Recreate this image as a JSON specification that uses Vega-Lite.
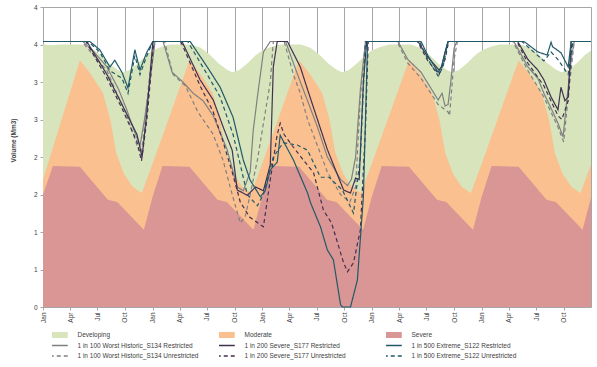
{
  "$schema": "https://vega.github.io/schema/vega-lite/v6.json",
  "width": 548,
  "height": 300,
  "autosize": {"type": "none"},
  "padding": {"left": 43, "top": 7, "right": 6, "bottom": 60},
  "background": "white",
  "config": {"view": {"stroke": "#a6a6a6", "strokeWidth": 1}, "font": "Liberation Sans"},
  "datasets": {
    "names": [
      {"s": "Developing", "name": "Developing"},
      {"s": "Moderate", "name": "Moderate"},
      {"s": "Severe", "name": "Severe"},
      {"s": "G", "name": "1 in 100 Worst Historic_S134 Restricted"},
      {"s": "N", "name": "1 in 200 Severe_S177 Restricted"},
      {"s": "T", "name": "1 in 500 Extreme_S122 Restricted"},
      {"s": "GD", "name": "1 in 100 Worst Historic_S134 Unrestricted"},
      {"s": "ND", "name": "1 in 200 Severe_S177 Unrestricted"},
      {"s": "TD", "name": "1 in 500 Extreme_S122 Unrestricted"}
    ],
    "main": [
      {"s":"Developing","d":"2001-01-01","v":3.5},{"s":"Developing","d":"2001-01-31","v":3.49},{"s":"Developing","d":"2001-03-01","v":3.5},{"s":"Developing","d":"2001-05-10","v":3.5},{"s":"Developing","d":"2001-06-09","v":3.46},{"s":"Developing","d":"2001-07-09","v":3.37},{"s":"Developing","d":"2001-08-08","v":3.25},{"s":"Developing","d":"2001-09-07","v":3.16},{"s":"Developing","d":"2001-09-24","v":3.13},{"s":"Developing","d":"2001-10-17","v":3.16},{"s":"Developing","d":"2001-11-16","v":3.26},{"s":"Developing","d":"2001-12-11","v":3.36},
      {"s":"Developing","d":"2002-01-01","v":3.42},{"s":"Developing","d":"2002-01-31","v":3.47},{"s":"Developing","d":"2002-03-01","v":3.5},{"s":"Developing","d":"2002-05-10","v":3.5},{"s":"Developing","d":"2002-06-09","v":3.46},{"s":"Developing","d":"2002-07-09","v":3.37},{"s":"Developing","d":"2002-08-08","v":3.25},{"s":"Developing","d":"2002-09-07","v":3.16},{"s":"Developing","d":"2002-09-24","v":3.13},{"s":"Developing","d":"2002-10-17","v":3.16},{"s":"Developing","d":"2002-11-16","v":3.26},{"s":"Developing","d":"2002-12-11","v":3.36},
      {"s":"Developing","d":"2003-01-01","v":3.42},{"s":"Developing","d":"2003-01-31","v":3.47},{"s":"Developing","d":"2003-03-01","v":3.5},{"s":"Developing","d":"2003-05-10","v":3.5},{"s":"Developing","d":"2003-06-09","v":3.46},{"s":"Developing","d":"2003-07-09","v":3.37},{"s":"Developing","d":"2003-08-08","v":3.25},{"s":"Developing","d":"2003-09-07","v":3.16},{"s":"Developing","d":"2003-09-24","v":3.13},{"s":"Developing","d":"2003-10-17","v":3.16},{"s":"Developing","d":"2003-11-16","v":3.26},{"s":"Developing","d":"2003-12-11","v":3.36},
      {"s":"Developing","d":"2004-01-01","v":3.42},{"s":"Developing","d":"2004-01-31","v":3.47},{"s":"Developing","d":"2004-03-01","v":3.5},{"s":"Developing","d":"2004-05-10","v":3.5},{"s":"Developing","d":"2004-06-09","v":3.46},{"s":"Developing","d":"2004-07-09","v":3.37},{"s":"Developing","d":"2004-08-08","v":3.25},{"s":"Developing","d":"2004-09-07","v":3.16},{"s":"Developing","d":"2004-09-24","v":3.13},{"s":"Developing","d":"2004-10-17","v":3.16},{"s":"Developing","d":"2004-11-16","v":3.26},{"s":"Developing","d":"2004-12-11","v":3.36},
      {"s":"Developing","d":"2005-01-01","v":3.42},{"s":"Developing","d":"2005-01-31","v":3.47},{"s":"Developing","d":"2005-03-01","v":3.5},{"s":"Developing","d":"2005-05-10","v":3.5},{"s":"Developing","d":"2005-06-09","v":3.46},{"s":"Developing","d":"2005-07-09","v":3.37},{"s":"Developing","d":"2005-08-08","v":3.25},{"s":"Developing","d":"2005-09-07","v":3.16},{"s":"Developing","d":"2005-09-24","v":3.13},{"s":"Developing","d":"2005-10-17","v":3.16},{"s":"Developing","d":"2005-11-16","v":3.26},{"s":"Developing","d":"2005-12-11","v":3.36},{"s":"Developing","d":"2005-12-31","v":3.42},

      {"s":"Moderate","d":"2001-01-01","v":1.7},{"s":"Moderate","d":"2001-05-04","v":3.29},{"s":"Moderate","d":"2001-06-10","v":3.1},{"s":"Moderate","d":"2001-07-20","v":2.85},{"s":"Moderate","d":"2001-08-13","v":2.5},{"s":"Moderate","d":"2001-09-02","v":2.05},{"s":"Moderate","d":"2001-09-27","v":1.78},{"s":"Moderate","d":"2001-10-27","v":1.6},{"s":"Moderate","d":"2001-11-26","v":1.52},
      {"s":"Moderate","d":"2002-01-01","v":1.91},{"s":"Moderate","d":"2002-05-04","v":3.29},{"s":"Moderate","d":"2002-06-10","v":3.1},{"s":"Moderate","d":"2002-07-20","v":2.85},{"s":"Moderate","d":"2002-08-13","v":2.5},{"s":"Moderate","d":"2002-09-02","v":2.05},{"s":"Moderate","d":"2002-09-27","v":1.78},{"s":"Moderate","d":"2002-10-27","v":1.6},{"s":"Moderate","d":"2002-11-26","v":1.52},
      {"s":"Moderate","d":"2003-01-01","v":1.91},{"s":"Moderate","d":"2003-05-04","v":3.29},{"s":"Moderate","d":"2003-06-10","v":3.1},{"s":"Moderate","d":"2003-07-20","v":2.85},{"s":"Moderate","d":"2003-08-13","v":2.5},{"s":"Moderate","d":"2003-09-02","v":2.05},{"s":"Moderate","d":"2003-09-27","v":1.78},{"s":"Moderate","d":"2003-10-27","v":1.6},{"s":"Moderate","d":"2003-11-26","v":1.52},
      {"s":"Moderate","d":"2004-01-01","v":1.91},{"s":"Moderate","d":"2004-05-04","v":3.29},{"s":"Moderate","d":"2004-06-10","v":3.1},{"s":"Moderate","d":"2004-07-20","v":2.85},{"s":"Moderate","d":"2004-08-13","v":2.5},{"s":"Moderate","d":"2004-09-02","v":2.05},{"s":"Moderate","d":"2004-09-27","v":1.78},{"s":"Moderate","d":"2004-10-27","v":1.6},{"s":"Moderate","d":"2004-11-26","v":1.52},
      {"s":"Moderate","d":"2005-01-01","v":1.91},{"s":"Moderate","d":"2005-05-04","v":3.29},{"s":"Moderate","d":"2005-06-10","v":3.1},{"s":"Moderate","d":"2005-07-20","v":2.85},{"s":"Moderate","d":"2005-08-13","v":2.5},{"s":"Moderate","d":"2005-09-02","v":2.05},{"s":"Moderate","d":"2005-09-27","v":1.78},{"s":"Moderate","d":"2005-10-27","v":1.6},{"s":"Moderate","d":"2005-11-26","v":1.52},{"s":"Moderate","d":"2005-12-31","v":1.9},

      {"s":"Severe","d":"2001-01-01","v":1.5},{"s":"Severe","d":"2001-02-03","v":1.88},{"s":"Severe","d":"2001-05-04","v":1.87},{"s":"Severe","d":"2001-08-05","v":1.43},{"s":"Severe","d":"2001-09-05","v":1.4},{"s":"Severe","d":"2001-12-03","v":1.03},
      {"s":"Severe","d":"2002-01-01","v":1.47},{"s":"Severe","d":"2002-02-03","v":1.88},{"s":"Severe","d":"2002-05-04","v":1.87},{"s":"Severe","d":"2002-08-05","v":1.43},{"s":"Severe","d":"2002-09-05","v":1.4},{"s":"Severe","d":"2002-12-03","v":1.03},
      {"s":"Severe","d":"2003-01-01","v":1.47},{"s":"Severe","d":"2003-02-03","v":1.88},{"s":"Severe","d":"2003-05-04","v":1.87},{"s":"Severe","d":"2003-08-05","v":1.43},{"s":"Severe","d":"2003-09-05","v":1.4},{"s":"Severe","d":"2003-12-03","v":1.03},
      {"s":"Severe","d":"2004-01-01","v":1.47},{"s":"Severe","d":"2004-02-03","v":1.88},{"s":"Severe","d":"2004-05-04","v":1.87},{"s":"Severe","d":"2004-08-05","v":1.43},{"s":"Severe","d":"2004-09-05","v":1.4},{"s":"Severe","d":"2004-12-03","v":1.03},
      {"s":"Severe","d":"2005-01-01","v":1.47},{"s":"Severe","d":"2005-02-03","v":1.88},{"s":"Severe","d":"2005-05-04","v":1.87},{"s":"Severe","d":"2005-08-05","v":1.43},{"s":"Severe","d":"2005-09-05","v":1.4},{"s":"Severe","d":"2005-12-03","v":1.03},{"s":"Severe","d":"2005-12-31","v":1.46},

      {"s":"G","d":"2001-01-01","v":3.54},{"s":"G","d":"2001-05-14","v":3.54},{"s":"G","d":"2001-06-20","v":3.4},{"s":"G","d":"2001-08-02","v":3.2},{"s":"G","d":"2001-09-10","v":2.9},{"s":"G","d":"2001-10-07","v":2.63},{"s":"G","d":"2001-10-27","v":2.4},{"s":"G","d":"2001-11-20","v":2.15},{"s":"G","d":"2001-12-05","v":2.5},{"s":"G","d":"2001-12-23","v":3.0},{"s":"G","d":"2002-01-09","v":3.54},
      {"s":"G","d":"2002-02-05","v":3.54},{"s":"G","d":"2002-03-07","v":3.13},{"s":"G","d":"2002-04-12","v":3.0},{"s":"G","d":"2002-05-16","v":2.85},{"s":"G","d":"2002-06-18","v":2.75},{"s":"G","d":"2002-07-22","v":2.55},{"s":"G","d":"2002-09-06","v":2.1},{"s":"G","d":"2002-10-10","v":1.6},{"s":"G","d":"2002-10-30","v":1.55},{"s":"G","d":"2002-11-22","v":1.8},{"s":"G","d":"2002-12-02","v":2.35},{"s":"G","d":"2002-12-16","v":2.8},{"s":"G","d":"2003-01-05","v":3.4},{"s":"G","d":"2003-01-28","v":3.54},
      {"s":"G","d":"2003-03-20","v":3.54},{"s":"G","d":"2003-04-15","v":3.25},{"s":"G","d":"2003-05-08","v":3.0},{"s":"G","d":"2003-06-01","v":2.75},{"s":"G","d":"2003-07-04","v":2.4},{"s":"G","d":"2003-08-06","v":2.0},{"s":"G","d":"2003-09-19","v":1.7},{"s":"G","d":"2003-10-12","v":1.62},{"s":"G","d":"2003-10-25","v":1.7},{"s":"G","d":"2003-11-08","v":2.0},{"s":"G","d":"2003-11-24","v":2.9},{"s":"G","d":"2003-12-11","v":3.54},
      {"s":"G","d":"2004-03-28","v":3.54},{"s":"G","d":"2004-04-30","v":3.3},{"s":"G","d":"2004-06-13","v":3.13},{"s":"G","d":"2004-08-09","v":2.76},{"s":"G","d":"2004-08-22","v":2.85},{"s":"G","d":"2004-09-01","v":2.68},{"s":"G","d":"2004-09-11","v":2.7},{"s":"G","d":"2004-09-20","v":3.0},{"s":"G","d":"2004-10-01","v":3.45},{"s":"G","d":"2004-10-10","v":3.54},
      {"s":"G","d":"2005-04-18","v":3.54},{"s":"G","d":"2005-06-04","v":3.2},{"s":"G","d":"2005-07-07","v":3.05},{"s":"G","d":"2005-07-27","v":2.85},{"s":"G","d":"2005-08-20","v":2.65},{"s":"G","d":"2005-09-12","v":2.45},{"s":"G","d":"2005-09-29","v":2.27},{"s":"G","d":"2005-10-10","v":2.7},{"s":"G","d":"2005-10-26","v":3.3},{"s":"G","d":"2005-11-05","v":3.54},{"s":"G","d":"2005-12-31","v":3.54},

      {"s":"GD","d":"2001-01-01","v":3.54},{"s":"GD","d":"2001-05-10","v":3.54},{"s":"GD","d":"2001-08-02","v":3.15},{"s":"GD","d":"2001-10-07","v":2.55},{"s":"GD","d":"2001-11-15","v":2.1},{"s":"GD","d":"2001-11-25","v":2.05},{"s":"GD","d":"2001-12-10","v":2.6},{"s":"GD","d":"2001-12-25","v":3.2},{"s":"GD","d":"2002-01-09","v":3.54},
      {"s":"GD","d":"2002-02-10","v":3.54},{"s":"GD","d":"2002-03-10","v":3.1},{"s":"GD","d":"2002-04-20","v":2.95},{"s":"GD","d":"2002-06-01","v":2.6},{"s":"GD","d":"2002-07-22","v":2.3},{"s":"GD","d":"2002-08-24","v":1.95},{"s":"GD","d":"2002-09-23","v":1.5},{"s":"GD","d":"2002-10-20","v":1.12},{"s":"GD","d":"2002-11-05","v":1.2},{"s":"GD","d":"2002-11-22","v":1.5},{"s":"GD","d":"2002-12-16","v":1.96},{"s":"GD","d":"2003-01-28","v":3.0},{"s":"GD","d":"2003-02-07","v":3.54},
      {"s":"GD","d":"2003-03-15","v":3.54},{"s":"GD","d":"2003-04-15","v":3.1},{"s":"GD","d":"2003-05-08","v":2.85},{"s":"GD","d":"2003-06-01","v":2.5},{"s":"GD","d":"2003-07-04","v":2.15},{"s":"GD","d":"2003-08-06","v":1.8},{"s":"GD","d":"2003-09-19","v":1.5},{"s":"GD","d":"2003-10-20","v":1.4},{"s":"GD","d":"2003-11-08","v":1.6},{"s":"GD","d":"2003-11-24","v":2.8},{"s":"GD","d":"2003-12-11","v":3.54},
      {"s":"GD","d":"2004-03-25","v":3.54},{"s":"GD","d":"2004-04-30","v":3.25},{"s":"GD","d":"2004-06-13","v":3.05},{"s":"GD","d":"2004-08-09","v":2.7},{"s":"GD","d":"2004-09-11","v":2.6},{"s":"GD","d":"2004-09-16","v":2.55},{"s":"GD","d":"2004-10-01","v":3.3},{"s":"GD","d":"2004-10-12","v":3.54},
      {"s":"GD","d":"2005-04-15","v":3.54},{"s":"GD","d":"2005-06-04","v":3.15},{"s":"GD","d":"2005-07-27","v":2.8},{"s":"GD","d":"2005-09-12","v":2.4},{"s":"GD","d":"2005-10-01","v":2.2},{"s":"GD","d":"2005-10-16","v":2.8},{"s":"GD","d":"2005-11-05","v":3.54},{"s":"GD","d":"2005-12-31","v":3.54},

      {"s":"N","d":"2001-01-01","v":3.54},{"s":"N","d":"2001-05-27","v":3.54},{"s":"N","d":"2001-08-02","v":3.1},{"s":"N","d":"2001-09-21","v":2.7},{"s":"N","d":"2001-11-10","v":2.3},{"s":"N","d":"2001-11-27","v":2.0},{"s":"N","d":"2001-12-13","v":2.6},{"s":"N","d":"2002-01-02","v":3.54},
      {"s":"N","d":"2002-04-09","v":3.54},{"s":"N","d":"2002-06-08","v":3.03},{"s":"N","d":"2002-07-22","v":2.76},{"s":"N","d":"2002-08-24","v":2.4},{"s":"N","d":"2002-09-23","v":2.09},{"s":"N","d":"2002-10-10","v":1.56},{"s":"N","d":"2002-11-12","v":1.49},{"s":"N","d":"2002-12-10","v":1.6},{"s":"N","d":"2003-01-05","v":1.55},{"s":"N","d":"2003-01-28","v":1.9},{"s":"N","d":"2003-02-07","v":3.2},{"s":"N","d":"2003-02-20","v":3.54},
      {"s":"N","d":"2003-03-26","v":3.54},{"s":"N","d":"2003-05-08","v":3.2},{"s":"N","d":"2003-06-01","v":2.9},{"s":"N","d":"2003-07-04","v":2.5},{"s":"N","d":"2003-08-06","v":2.1},{"s":"N","d":"2003-09-29","v":1.56},{"s":"N","d":"2003-10-22","v":1.52},{"s":"N","d":"2003-11-08","v":1.72},{"s":"N","d":"2003-11-20","v":1.7},{"s":"N","d":"2003-12-04","v":3.0},{"s":"N","d":"2003-12-15","v":3.54},
      {"s":"N","d":"2004-06-03","v":3.54},{"s":"N","d":"2004-07-06","v":3.33},{"s":"N","d":"2004-08-12","v":3.16},{"s":"N","d":"2004-08-20","v":3.2},{"s":"N","d":"2004-09-01","v":3.4},{"s":"N","d":"2004-09-11","v":3.54},
      {"s":"N","d":"2005-05-01","v":3.54},{"s":"N","d":"2005-06-04","v":3.3},{"s":"N","d":"2005-07-07","v":3.16},{"s":"N","d":"2005-07-27","v":3.03},{"s":"N","d":"2005-08-20","v":2.8},{"s":"N","d":"2005-09-12","v":2.63},{"s":"N","d":"2005-09-22","v":2.93},{"s":"N","d":"2005-10-05","v":2.75},{"s":"N","d":"2005-10-16","v":2.8},{"s":"N","d":"2005-10-26","v":3.54},{"s":"N","d":"2005-12-31","v":3.54},

      {"s":"ND","d":"2001-01-01","v":3.54},{"s":"ND","d":"2001-05-24","v":3.54},{"s":"ND","d":"2001-08-02","v":3.05},{"s":"ND","d":"2001-09-21","v":2.65},{"s":"ND","d":"2001-11-10","v":2.2},{"s":"ND","d":"2001-11-25","v":1.95},{"s":"ND","d":"2001-12-13","v":2.5},{"s":"ND","d":"2002-01-05","v":3.54},
      {"s":"ND","d":"2002-04-05","v":3.54},{"s":"ND","d":"2002-06-08","v":2.95},{"s":"ND","d":"2002-07-22","v":2.6},{"s":"ND","d":"2002-08-24","v":2.2},{"s":"ND","d":"2002-09-23","v":1.8},{"s":"ND","d":"2002-10-20","v":1.4},{"s":"ND","d":"2002-11-20","v":1.2},{"s":"ND","d":"2003-01-05","v":1.07},{"s":"ND","d":"2003-01-28","v":1.7},{"s":"ND","d":"2003-02-20","v":2.3},{"s":"ND","d":"2003-03-02","v":2.45},{"s":"ND","d":"2003-03-15","v":2.3},{"s":"ND","d":"2003-04-15","v":2.13},{"s":"ND","d":"2003-05-20","v":1.95},{"s":"ND","d":"2003-06-21","v":1.79},{"s":"ND","d":"2003-07-24","v":1.29},{"s":"ND","d":"2003-08-20","v":1.12},{"s":"ND","d":"2003-09-29","v":0.59},{"s":"ND","d":"2003-10-12","v":0.47},{"s":"ND","d":"2003-11-01","v":0.59},{"s":"ND","d":"2003-11-24","v":1.03},{"s":"ND","d":"2003-12-11","v":2.4},{"s":"ND","d":"2003-12-20","v":3.54},
      {"s":"ND","d":"2004-06-01","v":3.54},{"s":"ND","d":"2004-07-06","v":3.28},{"s":"ND","d":"2004-08-12","v":3.1},{"s":"ND","d":"2004-09-01","v":3.3},{"s":"ND","d":"2004-09-13","v":3.54},
      {"s":"ND","d":"2005-04-28","v":3.54},{"s":"ND","d":"2005-06-04","v":3.25},{"s":"ND","d":"2005-07-27","v":2.95},{"s":"ND","d":"2005-09-12","v":2.55},{"s":"ND","d":"2005-09-25","v":2.5},{"s":"ND","d":"2005-10-16","v":2.75},{"s":"ND","d":"2005-10-28","v":3.54},{"s":"ND","d":"2005-12-31","v":3.54},

      {"s":"T","d":"2001-01-01","v":3.54},{"s":"T","d":"2001-06-06","v":3.54},{"s":"T","d":"2001-07-09","v":3.43},{"s":"T","d":"2001-08-12","v":3.2},{"s":"T","d":"2001-08-28","v":3.29},{"s":"T","d":"2001-09-21","v":3.13},{"s":"T","d":"2001-10-11","v":2.92},{"s":"T","d":"2001-11-03","v":3.43},{"s":"T","d":"2001-11-20","v":3.16},{"s":"T","d":"2001-12-13","v":3.4},{"s":"T","d":"2002-01-02","v":3.54},
      {"s":"T","d":"2002-05-06","v":3.54},{"s":"T","d":"2002-07-02","v":3.2},{"s":"T","d":"2002-08-14","v":2.93},{"s":"T","d":"2002-09-26","v":2.53},{"s":"T","d":"2002-10-30","v":1.96},{"s":"T","d":"2002-11-22","v":1.69},{"s":"T","d":"2002-12-26","v":1.47},{"s":"T","d":"2003-01-11","v":1.55},{"s":"T","d":"2003-01-28","v":1.83},{"s":"T","d":"2003-02-20","v":1.93},{"s":"T","d":"2003-03-02","v":2.29},{"s":"T","d":"2003-04-15","v":1.96},{"s":"T","d":"2003-06-01","v":1.52},{"s":"T","d":"2003-06-11","v":1.39},{"s":"T","d":"2003-07-14","v":1.07},{"s":"T","d":"2003-08-06","v":0.76},{"s":"T","d":"2003-08-26","v":0.63},{"s":"T","d":"2003-09-19","v":0.03},{"s":"T","d":"2003-09-25","v":0},{"s":"T","d":"2003-10-22","v":0},{"s":"T","d":"2003-11-14","v":0.36},{"s":"T","d":"2003-12-04","v":1.47},{"s":"T","d":"2003-12-18","v":3.54},
      {"s":"T","d":"2004-06-13","v":3.54},{"s":"T","d":"2004-07-06","v":3.35},{"s":"T","d":"2004-08-09","v":3.13},{"s":"T","d":"2004-08-20","v":3.2},{"s":"T","d":"2004-09-05","v":3.45},{"s":"T","d":"2004-09-11","v":3.54},
      {"s":"T","d":"2005-05-22","v":3.54},{"s":"T","d":"2005-07-07","v":3.4},{"s":"T","d":"2005-08-07","v":3.36},{"s":"T","d":"2005-08-20","v":3.53},{"s":"T","d":"2005-08-25","v":3.47},{"s":"T","d":"2005-09-22","v":3.39},{"s":"T","d":"2005-10-16","v":3.2},{"s":"T","d":"2005-10-26","v":3.54},{"s":"T","d":"2005-12-31","v":3.54},

      {"s":"TD","d":"2001-01-01","v":3.54},{"s":"TD","d":"2001-06-01","v":3.54},{"s":"TD","d":"2001-07-09","v":3.4},{"s":"TD","d":"2001-08-12","v":3.15},{"s":"TD","d":"2001-09-21","v":3.05},{"s":"TD","d":"2001-10-11","v":2.85},{"s":"TD","d":"2001-11-03","v":3.35},{"s":"TD","d":"2001-11-20","v":3.1},{"s":"TD","d":"2001-12-13","v":3.35},{"s":"TD","d":"2002-01-02","v":3.54},
      {"s":"TD","d":"2002-04-28","v":3.54},{"s":"TD","d":"2002-07-02","v":3.1},{"s":"TD","d":"2002-08-14","v":2.8},{"s":"TD","d":"2002-09-26","v":2.3},{"s":"TD","d":"2002-10-20","v":1.9},{"s":"TD","d":"2002-11-12","v":1.5},{"s":"TD","d":"2002-12-16","v":1.35},{"s":"TD","d":"2003-01-05","v":1.5},{"s":"TD","d":"2003-02-07","v":2.0},{"s":"TD","d":"2003-03-12","v":2.19},{"s":"TD","d":"2003-04-28","v":2.16},{"s":"TD","d":"2003-06-01","v":2.09},{"s":"TD","d":"2003-07-14","v":1.73},{"s":"TD","d":"2003-08-12","v":1.73},{"s":"TD","d":"2003-09-25","v":1.56},{"s":"TD","d":"2003-11-01","v":1.25},{"s":"TD","d":"2003-11-24","v":2.0},{"s":"TD","d":"2003-12-11","v":3.54},
      {"s":"TD","d":"2004-06-08","v":3.54},{"s":"TD","d":"2004-07-06","v":3.3},{"s":"TD","d":"2004-08-09","v":3.08},{"s":"TD","d":"2004-08-25","v":3.2},{"s":"TD","d":"2004-09-11","v":3.54},
      {"s":"TD","d":"2005-05-15","v":3.54},{"s":"TD","d":"2005-07-27","v":3.28},{"s":"TD","d":"2005-08-20","v":3.4},{"s":"TD","d":"2005-09-12","v":3.3},{"s":"TD","d":"2005-10-16","v":3.1},{"s":"TD","d":"2005-11-01","v":3.54},{"s":"TD","d":"2005-12-31","v":3.54}
    ]
  },
  "data": {"name": "main"},
  "transform": [{"lookup": "s", "from": {"data": {"name": "names"}, "key": "s", "fields": ["name"]}}],
  "encoding": {
    "x": {
      "field": "d", "type": "temporal", "title": null,
      "scale": {"type": "utc", "domain": [{"year": 2001, "month": 1, "date": 1, "utc": true}, {"year": 2005, "month": 12, "date": 31, "utc": true}]},
      "axis": {"format": "%b", "tickCount": {"interval": "month", "step": 3}, "labelAngle": 270, "labelFontSize": 6.5, "labelColor": "#404040", "grid": true, "gridColor": "#a6a6a6", "domain": false, "ticks": true, "tickSize": 3, "tickColor": "#a6a6a6", "labelPadding": 2, "labelOverlap": false, "labelFlush": false}
    },
    "y": {
      "field": "v", "type": "quantitative", "stack": null,
      "scale": {"domain": [0, 4], "nice": false, "zero": true},
      "axis": {"values": [0, 0.5, 1, 1.5, 2, 2.5, 3, 3.5, 4], "format": ".0f", "labelFontSize": 6.5, "labelColor": "#404040", "grid": false, "domainColor": "#a6a6a6", "tickColor": "#a6a6a6", "tickSize": 3, "labelPadding": 3, "title": "Volume (Mm3)", "titleFontSize": 6.5, "titleFontWeight": "bold", "titleColor": "#404040", "titleX": -27, "titleY": 133}
    },
    "color": {
      "field": "name", "type": "nominal",
      "scale": {
        "domain": ["Developing", "1 in 100 Worst Historic_S134 Restricted", "1 in 100 Worst Historic_S134 Unrestricted", "Moderate", "1 in 200 Severe_S177 Restricted", "1 in 200 Severe_S177 Unrestricted", "Severe", "1 in 500 Extreme_S122 Restricted", "1 in 500 Extreme_S122 Unrestricted"],
        "range": ["#d7e4bc", "#808080", "#808080", "#fac090", "#403152", "#403152", "#d99694", "#215968", "#215968"]
      },
      "legend": {
        "orient": "none", "legendX": 9, "legendY": 324, "columns": 3, "title": null,
        "symbolType": "stroke", "symbolSize": 625, "symbolStrokeWidth": 1.5, "clipHeight": 8,
        "rowPadding": 2.5, "columnPadding": 20, "gridAlign": "all",
        "labelFontSize": 6.5, "labelColor": "#404040", "labelOffset": 19, "labelLimit": 300, "padding": 0,
        "encode": {"symbols": {"update": {
          "stroke": {"signal": "scale('color', datum.value)"},
          "strokeWidth": {"signal": "indexof(['Developing','Moderate','Severe'], datum.value) >= 0 ? 6 : 1.5"},
          "strokeDash": {"signal": "indexof(datum.value, 'Unrestricted') > 0 ? [4, 3] : [1, 0]"},
          "opacity": {"value": 1}
        }}}
      }
    }
  },
  "layer": [
    {"transform": [{"filter": {"field": "s", "equal": "Developing"}}], "mark": {"type": "area", "opacity": 1}},
    {"transform": [{"filter": {"field": "s", "equal": "Moderate"}}], "mark": {"type": "area", "opacity": 1}},
    {"transform": [{"filter": {"field": "s", "equal": "Severe"}}], "mark": {"type": "area", "opacity": 1}},
    {
      "transform": [{"filter": {"field": "s", "oneOf": ["G", "GD", "N", "ND", "T", "TD"]}}],
      "mark": {"type": "line", "strokeWidth": 1.2},
      "encoding": {
        "strokeDash": {
          "field": "name", "type": "nominal", "legend": null,
          "scale": {
            "domain": ["1 in 100 Worst Historic_S134 Restricted", "1 in 200 Severe_S177 Restricted", "1 in 500 Extreme_S122 Restricted", "1 in 100 Worst Historic_S134 Unrestricted", "1 in 200 Severe_S177 Unrestricted", "1 in 500 Extreme_S122 Unrestricted"],
            "range": [[1, 0], [1, 0], [1, 0], [4, 3], [4, 3], [4, 3]]
          }
        }
      }
    }
  ]
}
